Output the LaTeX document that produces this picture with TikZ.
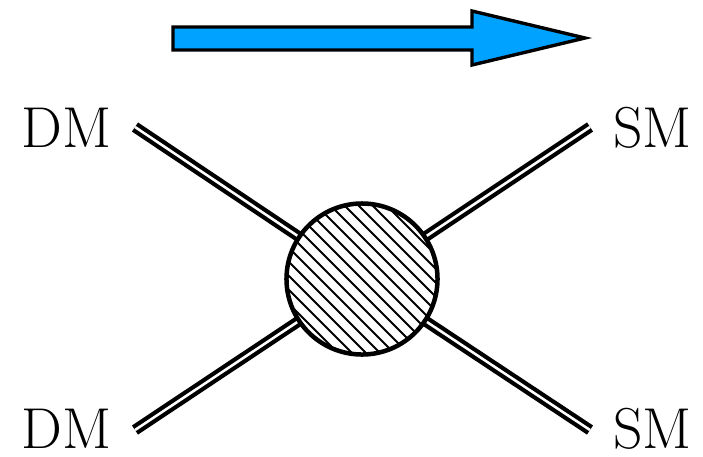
\documentclass[tikz,border=0pt]{standalone}
\usetikzlibrary{backgrounds}
\usepackage{xcolor}
\definecolor{flowblue}{HTML}{00A2FF}

\begin{document}
\begin{tikzpicture}[
      x=0.025cm, y=-0.025cm,
      particle/.style={inner sep=0pt, font=\fontsize{41}{44}\selectfont},
      leg/.style={line width=3pt, double=white, double distance=1.8pt},
      blob/.style={circle, draw, line width=3.2pt, fill=white, minimum size=3.775cm, inner sep=0pt,
        path picture={\foreach \c in {-112,-98,...,112}
          \draw[line width=1.35pt] ([shift={(\c-100,-100)}]path picture bounding box.center) -- ++(200,200);}},
      flow/.style={draw=black, line width=2.4pt, fill=flowblue, line join=miter},
    ]
    \useasboundingbox (0,0) rectangle (703,456);

    % time direction
    \draw[flow] (173,27) -- (472,27) -- (472,11) -- (585,38) -- (472,65) -- (472,50) -- (173,50) -- cycle;

    \node[blob] (blob) at (362,279) {};

    \node[particle, anchor=east] (dmin1) at (112,127.5) {DM};
    \node[particle, anchor=east] (dmin2) at (112,428.5) {DM};
    \node[particle, anchor=west] (smout1) at (613,127.5) {SM};
    \node[particle, anchor=west] (smout2) at (613,428.5) {SM};

    \coordinate (a1) at (135,127);
    \coordinate (a2) at (135,430);
    \coordinate (b1) at (590,127);
    \coordinate (b2) at (590,430);

    \begin{scope}[on background layer]
      \draw[leg] (a1) -- (blob.center);
      \draw[leg] (a2) -- (blob.center);
      \draw[leg] (b1) -- (blob.center);
      \draw[leg] (b2) -- (blob.center);
    \end{scope}
  \end{tikzpicture}
\end{document}
